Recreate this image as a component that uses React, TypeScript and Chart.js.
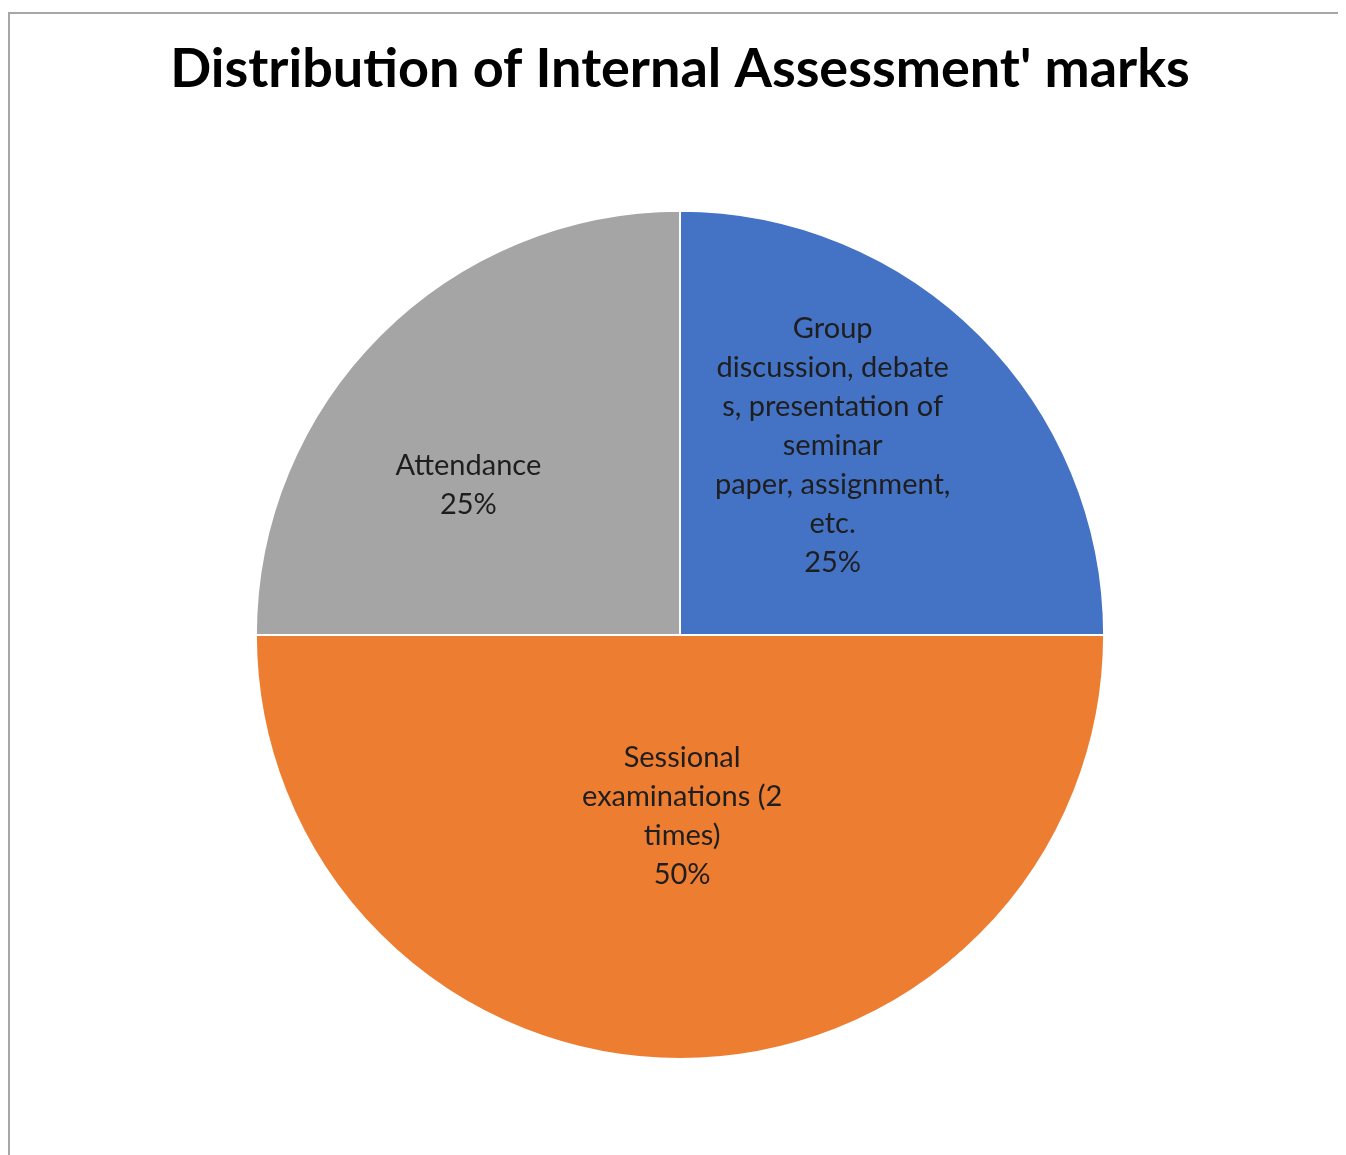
import React, { useEffect, useRef } from "react";
import { Chart, registerables } from "chart.js";

Chart.register(...registerables);

const titleText = "Distribution of Internal Assessment' marks";
const categories = [
  "Group discussion, debates, presentation of seminar paper, assignment, etc.",
  "Sessional examinations (2 times)",
  "Attendance",
];
const values = [25, 50, 25];
const percentLabels = ["25%", "50%", "25%"];
const wrappedLabels = [
  ["Group", "discussion, debate", "s, presentation of", "seminar", "paper, assignment,", "etc."],
  ["Sessional", "examinations (2", "times)"],
  ["Attendance"],
];
const sliceColors = ["#4472C4", "#ED7D31", "#A5A5A5"];
// label centre offsets as fractions of the pie radius (style)
const labelOffsets = [
  [0.36, -0.446],
  [0.005, 0.428],
  [-0.499, -0.353],
];

const LABEL_FONT = "29px Lato";
const LABEL_LINE = 39;

const framePlugin = {
  id: "frame",
  beforeDraw(chart: any) {
    const { ctx, width, height } = chart;
    ctx.save();
    ctx.fillStyle = "#ffffff";
    ctx.fillRect(0, 0, width, height);
    ctx.strokeStyle = "#a6a6a6";
    ctx.lineWidth = 2;
    ctx.beginPath();
    ctx.moveTo(1, height + 10);
    ctx.lineTo(1, 5);
    ctx.lineTo(width + 10, 5);
    ctx.stroke();
    ctx.restore();
  },
};

const labelPlugin = {
  id: "sliceLabels",
  afterDatasetsDraw(chart: any) {
    const { ctx } = chart;
    const meta = chart.getDatasetMeta(0);
    ctx.save();
    ctx.font = LABEL_FONT;
    ctx.fillStyle = "#1e1e1e";
    ctx.textAlign = "center";
    ctx.textBaseline = "middle";
    meta.data.forEach((arc: any, i: number) => {
      const r = arc.outerRadius;
      const cx = arc.x + labelOffsets[i][0] * r;
      const cy = arc.y + labelOffsets[i][1] * r;
      const lines = [...wrappedLabels[i], percentLabels[i]];
      const top = cy - ((lines.length - 1) * LABEL_LINE) / 2;
      lines.forEach((ln, j) => ctx.fillText(ln, cx, top + j * LABEL_LINE));
    });
    ctx.restore();
  },
};

export default function App() {
  const ref = useRef<HTMLCanvasElement>(null);
  useEffect(() => {
    document.documentElement.style.overflow = "hidden";
    document.body.style.overflow = "hidden";
    if (!ref.current) return;
    const chart = new Chart(ref.current, {
      type: "pie",
      data: {
        labels: categories,
        datasets: [
          {
            data: values,
            backgroundColor: sliceColors,
            borderColor: "#ffffff",
            borderWidth: 2,
          },
        ],
      },
      options: {
        responsive: false,
        animation: false,
        layout: { padding: { top: 0, bottom: 95, left: 6, right: 0 } },
        plugins: {
          legend: { display: false },
          tooltip: { enabled: false },
          title: {
            display: true,
            text: titleText,
            color: "#000000",
            font: { family: "Lato", size: 54, weight: "bold" },
            padding: { top: 29, bottom: 108 },
          },
        },
      },
      plugins: [framePlugin, labelPlugin],
    });
    return () => chart.destroy();
  }, []);
  return (
    <div style={{ width: 1338, height: 1147, overflow: "hidden" }}>
      <canvas ref={ref} width={1338} height={1147} style={{ display: "block" }} />
    </div>
  );
}
